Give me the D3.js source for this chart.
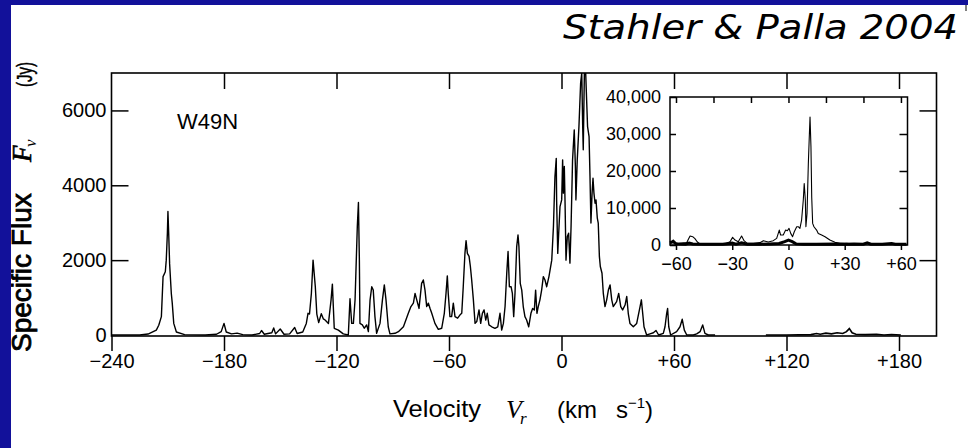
<!DOCTYPE html>
<html>
<head>
<meta charset="utf-8">
<script src="https://d3js.org/d3.v7.min.js"></script>
<style>
  body { margin: 0; background: #fff; }
  svg text { font-family: "Liberation Sans", Arial, sans-serif; fill: #000; }
  .axis line { stroke: #000; stroke-width: 1.5; }
  .axis text { font-size: 20px; }
  .inset .axis text { font-size: 18px; }
</style>
</head>
<body>
<div id="chart"></div>
<script>
// main spectrum, part 1 (km/s, Jy)
var velA = [-240, -225, -220.5, -216.1, -214.8, -213.4, -212.5, -211.3, -210.8, -210.2, -209.9, -209.5, -209.0,
  -208.1, -207.6, -206.8, -205.4, -201, -190, -184, -181.5, -180, -178.8, -176, -173, -170, -165, -161, -160,
  -158.5, -154.5, -153.5, -152.5, -150, -148, -145, -142.3, -141, -138, -136.1, -135.2, -134.4, -133.4, -132.5,
  -132, -131.3, -130.5, -129.5, -128.1, -127, -126.1, -124.3, -122.9, -122.2, -121.7, -121.2, -119.0, -116.4,
  -113.7, -112.8, -111.9, -111.0, -110.1, -108.9, -108.3, -107.8, -107.5, -106.2, -105.2, -103.9, -103.0, -102.1,
  -101.2, -100.4, -99.5, -98.6, -96.8, -95.5, -94.5, -93.6, -92.4, -91.5, -88.8, -87.0, -84.3, -81.7, -80.3,
  -79.0, -78.1, -77.2, -76.0, -74.6, -73.7, -72.8, -71.9, -71.0, -70.1, -69.2, -67.5, -65.7, -63.9, -62.5,
  -61.6, -60.9, -60.4, -59.5, -58.6, -57.7, -56.8, -55.4, -54.1, -53.2, -52.4, -51.5, -50.9, -50.2, -49.3,
  -48.6, -47.9, -47.0, -46.1, -45.2, -44.0, -43.1, -42.2, -41.3, -40.4, -39.6, -38.7, -37.2, -35.5, -34.0,
  -32.8, -31.9, -31.0, -30.1, -29.2, -28.5, -27.8, -26.9, -26.2, -25.5, -24.8, -23.9, -23.2, -22.7, -22.0,
  -21.2, -20.4, -19.5, -18.6, -17.5, -16.3, -15.4, -14.5, -13.8, -13.1, -12.4, -11.5, -10.6, -9.7, -8.8,
  -7.9, -6.7, -5.2, -4.3, -3.5, -2.8, -2.6, -2.0, -1.5, -0.8, 0.1, 0.6, 1.0, 1.5, 1.9, 2.4, 3.1, 3.8, 4.5,
  5.1, 5.9, 6.3, 6.8, 7.4, 7.7, 8.4, 9.3, 10.2, 10.8, 11.3, 11.6, 12.2, 12.9, 13.4, 13.9, 14.7, 15.2, 15.7,
  16.3, 16.8, 17.3, 17.9, 18.4, 19.1, 19.6, 20.2, 20.7, 21.6, 22.3, 23.2, 24.1, 25.0, 25.9, 26.8, 27.6, 29.4,
  30.5, 31.6, 32.6, 33.9, 34.8, 35.6, 36.5, 38.3, 40.1, 41.9, 42.6, 43.3, 44.0, 45.4, 47.2, 49.0, 50.4, 51.8,
  54.3, 55.2, 56.1, 56.6, 57.2, 58.2, 61.4, 63.2, 64.4, 65.5, 66.8, 70.3, 72.1, 73.9, 75.3, 76.5, 78.3, 81.9];
var fluxA = [0, 0, 25, 130, 260, 490, 1560, 1690, 2000, 2720, 3300, 2720, 1900,
  1110, 850, 310, 80, 10, 0, 20, 90, 310, 80, 30, 50, 10, 0, 40, 120,
  20, 60, 190, 30, 160, 20, 30, 200, 40, 80, 310, 580, 560, 1110, 2000,
  1700, 1290, 560, 330, 570, 430, 400, 310, 940, 1360, 760, 180, 130, 30,
  0, 970, 310, 310, 940, 2900, 3540, 2000, 310, 270, 180, 270, 90, 940,
  1290, 1200, 490, 45, 310, 940, 1340, 940, 220, 30, 45, 90, 220, 580, 760,
  850, 1110, 940, 710, 1380, 1470, 1200, 760, 850, 710, 580, 310, 150, 180, 580,
  1110, 1580, 1110, 490, 490, 850, 490, 450, 540, 580, 1290, 2180, 2520, 2180, 2100,
  1830, 1470, 940, 310, 360, 670, 310, 580, 670, 400, 580, 270, 220, 180, 220,
  580, 130, 310, 760, 1650, 2230, 1290, 1290, 1110, 490, 1110, 2360, 2670, 2360, 1380,
  1200, 760, 490, 400, 220, 580, 710, 670, 1200, 580, 760, 940, 1200, 1560, 1470,
  1290, 1560, 2000, 2900, 4230, 4720, 3610, 2180, 2720, 3430, 3610, 4680, 3790, 4500, 3520, 2000, 2630, 2720, 1920,
  2900, 4680, 5040, 5480, 4500, 3610, 4680, 5570, 6730, 7000, 5570, 4950, 7000, 7000, 6280, 5570, 5300, 4230, 2990,
  3790, 4190, 3790, 3520, 3610, 3120, 2990, 2100, 1830, 1650, 1110, 760, 940, 1200, 1340, 940, 760, 890,
  1110, 760, 670, 800, 1030, 580, 310, 220, 310, 760, 940, 580, 220, 0, 30, 60, 120, 0,
  45, 220, 580, 710, 220, 0, 90, 220, 420, 130, 0, 0, 30, 90, 270, 45, 0, 0];

// main spectrum, part 2
var velB = [109, 120, 133, 136, 138, 141, 144, 147, 150, 152, 153.5, 155, 157, 162, 168, 172, 176, 181];
var fluxB = [0, 0, 10, 40, 20, 50, 30, 60, 40, 90, 170, 60, 20, 10, 20, 0, 15, 0];

// inset: full spectrum (thin line)
var insetVel = [-63.2, -61.4, -60.2, -58.8, -54.3, -53.4, -52.5, -51.1, -49.9, -48.6, -47.2, -43.6, -36.5,
  -33.0, -31.2, -29.8, -28.5, -26.8, -25.0, -23.7, -22.0, -18.8, -15.2, -13.4, -10.8, -8.1, -6.3, -4.9,
  -4.2, -2.8, -1.5, -0.6, 0.3, 1.2, 2.2, 3.1, 4.4, 5.2, 6.1, 7.0, 7.9, 8.4, 9.0, 9.3, 9.9, 10.6, 11.1,
  11.5, 12.0, 12.4, 12.9, 13.6, 15.0, 15.9, 17.7, 19.5, 22.1, 24.8, 27.5, 31.0, 34.6, 41.7, 47.0, 52.4,
  55.0, 57.7, 63.0];
var insetFlux = [450, 1350, 630, 450, 630, 1530, 2430, 2250, 1710, 810, 270, 270, 270,
  450, 900, 2070, 1350, 900, 2430, 1170, 450, 450, 630, 1170, 810, 1170, 1800, 4040,
  2700, 2700, 4040, 3860, 4490, 3140, 2250, 3590, 4940, 4940, 4490, 6740, 12100, 16600, 12100, 4940, 8530, 22000, 29200,
  34600, 26500, 13000, 5840, 4940, 4040, 3140, 2700, 2250, 1350, 720, 450, 450, 270, 450, 270, 270,
  450, 180, 90];

// inset: second trace (heavy line near zero)
var insetVel2 = [-63.2, -61.5, -60, -55, -53, -51, -45, -35, -30, -28, -25, -22, -15, -10, -5, -2, 0, 2, 4, 8,
  15, 25, 30, 35, 40, 42, 44, 50, 55, 57, 63];
var insetFlux2 = [600, 900, 300, 200, 500, 300, 200, 200, 500, 200, 600, 200, 200, 300, 400, 900, 1300, 900, 300, 200,
  200, 300, 200, 300, 200, 600, 200, 200, 400, 200, 200];

var xTicks = [-240, -180, -120, -60, 0, 60, 120, 180];
var yTicks = [0, 2000, 4000, 6000];
var insetXTicks = [-60, -30, 0, 30, 60];
var insetXMinor = [-60, -40, -20, 0, 20, 40, 60];
var insetYTicks = [0, 10000, 20000, 30000, 40000];

var W = 968, H = 448;
var blue = "#12119a";

var svg = d3.select("#chart").append("svg")
  .attr("width", W)
  .attr("height", H);

svg.append("rect").attr("width", W).attr("height", H).attr("fill", "#fff");

//scales for the main panel
var x = d3.scaleLinear().domain([-240, 200]).range([111.5, 936.5]);
var y = d3.scaleLinear().domain([0, 7000]).range([335, 73]);

var signed = function(d) { return d > 0 ? "+" + d : (d < 0 ? "\u2212" + Math.abs(d) : "0"); };

svg.append("defs").append("clipPath").attr("id", "clipMain")
  .append("rect").attr("x", 111.5).attr("y", 73).attr("width", 825).attr("height", 263);

//axes
svg.append("g").attr("class", "axis")
  .attr("transform", "translate(0,336)")
  .call(d3.axisBottom(x).tickValues(xTicks).tickSize(15).tickPadding(3).tickFormat(signed))
  .call(function(g) { g.select(".domain").remove(); });

svg.append("g").attr("class", "axis")
  .attr("transform", "translate(0,73)")
  .call(d3.axisTop(x).tickValues(xTicks.slice(1)).tickSize(-16).tickFormat(""))
  .call(function(g) { g.select(".domain").remove(); });

svg.append("g").attr("class", "axis")
  .attr("transform", "translate(111.5,0)")
  .call(d3.axisLeft(y).tickValues(yTicks).tickSize(-17).tickPadding(5).tickFormat(d3.format("d")))
  .call(function(g) {
    g.select(".domain").remove();
    g.selectAll(".tick").filter(function(d) { return d === 0; }).select("line").remove();
  });

svg.append("g").attr("class", "axis")
  .attr("transform", "translate(936.5,0)")
  .call(d3.axisRight(y).tickValues(yTicks.slice(1)).tickSize(-17).tickFormat(""))
  .call(function(g) { g.select(".domain").remove(); });

//frame
svg.append("rect")
  .attr("x", 111.5).attr("y", 73).attr("width", 825).attr("height", 263)
  .attr("fill", "none").attr("stroke", "#000").attr("stroke-width", 1.6);

//spectrum
var line = d3.line()
  .x(function(d) { return x(d[0]); })
  .y(function(d) { return y(d[1]); });

var plot = svg.append("g").attr("clip-path", "url(#clipMain)");
plot.append("path")
  .datum(d3.zip(velA, fluxA))
  .attr("d", line)
  .attr("fill", "none").attr("stroke", "#000").attr("stroke-width", 1.4).attr("stroke-linejoin", "round");
plot.append("path")
  .datum(d3.zip(velB, fluxB))
  .attr("d", line)
  .attr("fill", "none").attr("stroke", "#000").attr("stroke-width", 1.6);

svg.append("text").attr("x", 177).attr("y", 129).style("font-size", "22px").text("W49N");

//inset
var xi = d3.scaleLinear().domain([-63.2, 63.5]).range([670, 907.5]);
var yi = d3.scaleLinear().domain([0, 40000]).range([245, 97]);
var inset = svg.append("g").attr("class", "inset");

inset.append("rect")
  .attr("x", 670).attr("y", 97).attr("width", 237.5).attr("height", 148)
  .attr("fill", "#fff");

inset.append("g").attr("class", "axis")
  .attr("transform", "translate(0,245)")
  .call(d3.axisBottom(xi).tickValues(insetXTicks).tickSize(5).tickPadding(7).tickFormat(signed))
  .call(function(g) { g.select(".domain").remove(); });

inset.append("g").attr("class", "axis")
  .attr("transform", "translate(0,97)")
  .call(d3.axisTop(xi).tickValues(insetXMinor).tickSize(-6).tickFormat(""))
  .call(function(g) { g.select(".domain").remove(); });

inset.append("g").attr("class", "axis")
  .attr("transform", "translate(670,0)")
  .call(d3.axisLeft(yi).tickValues(insetYTicks).tickSize(-6).tickPadding(9).tickFormat(d3.format(",")))
  .call(function(g) { g.select(".domain").remove(); });

inset.append("g").attr("class", "axis")
  .attr("transform", "translate(907.5,0)")
  .call(d3.axisRight(yi).tickValues(insetYTicks.slice(1, 4)).tickSize(-8).tickFormat(""))
  .call(function(g) { g.select(".domain").remove(); });

var iline = d3.line()
  .x(function(d) { return xi(d[0]); })
  .y(function(d) { return yi(d[1]); });

inset.append("path")
  .datum(d3.zip(insetVel2, insetFlux2))
  .attr("d", iline)
  .attr("fill", "none").attr("stroke", "#000").attr("stroke-width", 3);

inset.append("path")
  .datum(d3.zip(insetVel, insetFlux))
  .attr("d", iline)
  .attr("fill", "none").attr("stroke", "#000").attr("stroke-width", 1.1).attr("stroke-linejoin", "round");

inset.append("rect")
  .attr("x", 670).attr("y", 97).attr("width", 237.5).attr("height", 148)
  .attr("fill", "none").attr("stroke", "#000").attr("stroke-width", 1.5);

//x axis title
var xt = svg.append("g").style("font-size", "24px");
xt.append("text").attr("x", 393).attr("y", 417).attr("textLength", 88).attr("lengthAdjust", "spacingAndGlyphs").text("Velocity");
xt.append("text").attr("x", 506).attr("y", 418)
  .style("font-family", "'Liberation Serif', serif").style("font-style", "italic").style("font-size", "26px").text("V");
xt.append("text").attr("x", 520).attr("y", 424)
  .style("font-family", "'Liberation Serif', serif").style("font-style", "italic").style("font-size", "17px").text("r");
xt.append("text").attr("x", 557).attr("y", 418).text("(km");
xt.append("text").attr("x", 616).attr("y", 418).text("s");
xt.append("text").attr("x", 628).attr("y", 408).style("font-size", "15px").text("\u22121");
xt.append("text").attr("x", 645).attr("y", 418).text(")");

//y axis title (tops of the letters run under the blue frame)
var yt = svg.append("g");
yt.append("text").attr("transform", "translate(31,352) rotate(-90)")
  .style("font-size", "28px").style("stroke", "#000").style("stroke-width", 0.8).text("Specific Flux");
yt.append("text").attr("transform", "translate(31,162) rotate(-90)")
  .style("font-family", "'Liberation Serif', serif").style("font-style", "italic").style("font-size", "27px")
  .style("stroke", "#000").style("stroke-width", 0.6).text("F");
yt.append("text").attr("transform", "translate(36,147) rotate(-90)")
  .style("font-family", "'Liberation Serif', serif").style("font-style", "italic").style("font-size", "17px").text("\u03bd");
yt.append("text").attr("transform", "translate(32,87) rotate(-90)")
  .attr("textLength", 25).attr("lengthAdjust", "spacingAndGlyphs")
  .style("font-size", "22px").style("stroke", "#000").style("stroke-width", 0.4).text("(Jy)");

//title
svg.append("text")
  .attr("x", 958).attr("y", 39)
  .attr("text-anchor", "end")
  .attr("textLength", 395).attr("lengthAdjust", "spacingAndGlyphs")
  .style("font-family", "'DejaVu Sans', sans-serif").style("font-style", "italic").style("font-size", "33px")
  .text("Stahler & Palla 2004");

//blue slide border
svg.append("rect").attr("x", 0).attr("y", 0).attr("width", W).attr("height", 5).attr("fill", blue);
svg.append("rect").attr("x", 0).attr("y", 0).attr("width", 11).attr("height", H).attr("fill", blue);
svg.append("line").attr("x1", 966).attr("x2", 966).attr("y1", 5).attr("y2", 11)
  .attr("stroke", "#000").attr("stroke-width", 1);
</script>
</body>
</html>
